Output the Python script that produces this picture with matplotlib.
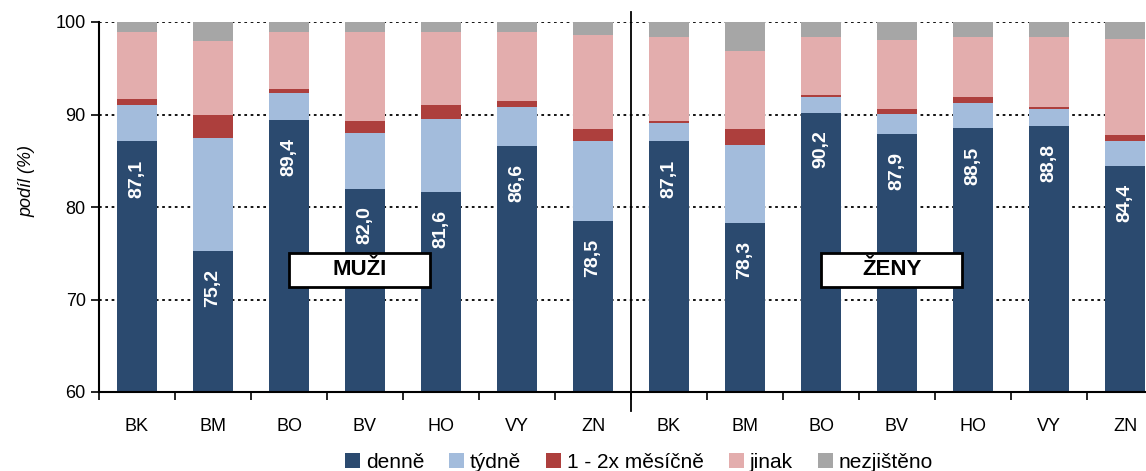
import matplotlib.pyplot as plt
from matplotlib.patches import Rectangle
import numpy as np

plt.rcParams['font.family'] = ['Liberation Sans', 'DejaVu Sans']

# okresy, nejdriv muzi, pak zeny
okresy = ["BK", "BM", "BO", "BV", "HO", "VY", "ZN",
          "BK", "BM", "BO", "BV", "HO", "VY", "ZN"]

denne = [87.1, 75.2, 89.4, 82.0, 81.6, 86.6, 78.5,
         87.1, 78.3, 90.2, 87.9, 88.5, 88.8, 84.4]
tydne = [3.9, 12.3, 2.9, 6.0, 7.9, 4.2, 8.6,
         1.95, 8.4, 1.7, 2.2, 2.7, 1.8, 2.7]
mesicne = [0.7, 2.4, 0.45, 1.3, 1.5, 0.65, 1.3,
           0.25, 1.7, 0.2, 0.5, 0.7, 0.2, 0.65]
jinak = [7.2, 8.1, 6.15, 9.6, 7.9, 7.45, 10.2,
         9.1, 8.5, 6.3, 7.4, 6.5, 7.6, 10.45]
nezjisteno = [1.1, 2.0, 1.1, 1.1, 1.1, 1.1, 1.4,
              1.6, 3.1, 1.6, 2.0, 1.6, 1.6, 1.8]

serie = [
    ("denně", denne, "#2b4a6f"),
    ("týdně", tydne, "#a3bcdc"),
    ("1 - 2x měsíčně", mesicne, "#ad3f3d"),
    ("jinak", jinak, "#e3adad"),
    ("nezjištěno", nezjisteno, "#a6a6a6"),
]

fig = plt.figure(figsize=(11.46, 4.71), dpi=100)
ax = fig.add_axes([99 / 1146, 1 - 392 / 471, 1064 / 1146, 370 / 471])

x = np.arange(len(okresy))
spodek = np.zeros(len(okresy))
for nazev, hodnoty, barva in serie:
    ax.bar(x, hodnoty, 0.53, bottom=spodek, color=barva, label=nazev, zorder=2)
    spodek = spodek + np.array(hodnoty)

# popisky hodnot "denne" u horniho konce sloupce
for i, v in enumerate(denne):
    ax.annotate(f"{v:.1f}".replace(".", ","), (x[i], v), xytext=(0, -13),
                textcoords="offset points", ha="center", va="top",
                rotation=90, color="white", fontsize=14, fontweight="bold",
                zorder=3)

ax.set_ylim(60, 100)
ax.set_xlim(-0.5, len(okresy) - 0.5)
ax.set_yticks([60, 70, 80, 90, 100])
ax.tick_params(axis="y", labelsize=13, length=6, width=1.2, direction="out")
ax.yaxis.grid(True, linestyle=(0, (1.5, 2)), color="black", linewidth=1.3, zorder=0)
ax.set_axisbelow(True)

ax.set_xticks(x)
ax.set_xticklabels(okresy, fontsize=13)
ax.set_xticks(np.arange(-0.5, len(okresy)), minor=True)
ax.tick_params(axis="x", which="major", length=0, pad=19)
ax.tick_params(axis="x", which="minor", length=6, width=1.2, direction="out")

for s in ["top", "right"]:
    ax.spines[s].set_visible(False)
ax.spines["left"].set_linewidth(1.5)
ax.spines["bottom"].set_linewidth(1.5)

# deleni muzi / zeny
ax.plot([6.5, 6.5], [58.0, 101.1], color="black", linewidth=1.3,
        clip_on=False, zorder=4)

ax.set_ylabel("podíl (%)", fontsize=13, style="italic")
ax.yaxis.set_label_coords(-0.06, 0.57)

# ramecky MUZI / ZENY
for xs, txt in [(2.93, "MUŽI"), (9.93, "ŽENY")]:
    ax.add_patch(Rectangle((xs - 0.93, 71.3), 1.86, 3.75, facecolor="white",
                           edgecolor="black", linewidth=2, zorder=5))
    ax.text(xs, 73.2, txt, ha="center", va="center", fontsize=16,
            fontweight="bold", zorder=6)

# titulek je z vetsi casti orizly
fig.text(0.49, 1.012, "Frekvence podle pohlaví, konzumace v jednotlivých okresech",
         ha="center", va="bottom", fontsize=14, fontweight="bold")

ax.legend(loc="center", bbox_to_anchor=(540 / 1064, -0.19), ncol=5, frameon=False,
          fontsize=15, handlelength=0.7, handleheight=0.7, handletextpad=0.3,
          columnspacing=1.2, borderaxespad=0)

fig.savefig("out.png", dpi=100)
